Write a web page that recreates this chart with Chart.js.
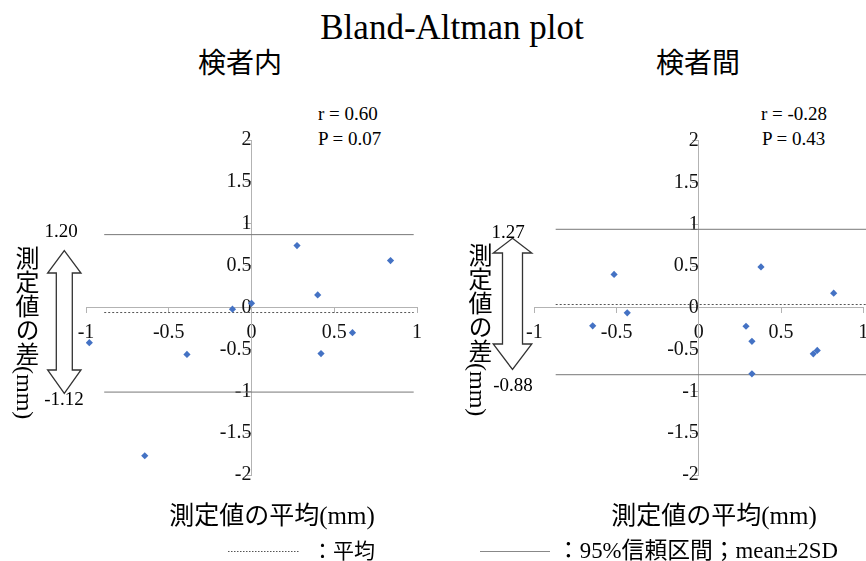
<!DOCTYPE html>
<html>
<head>
<meta charset="utf-8">
<script src="https://cdn.jsdelivr.net/npm/chart.js@4.4.1/dist/chart.umd.min.js"></script>
<style>
  html, body { margin:0; padding:0; background:#fff; width:866px; height:561px; overflow:hidden; }
  .t { position:absolute; white-space:nowrap; font-family:"Liberation Serif","Noto Sans CJK JP",serif; color:#000; line-height:1; }
  .c { transform:translate(-50%,-50%); }
  .jp { font-family:"Noto Sans CJK JP","Liberation Serif",sans-serif; }
  .vt { writing-mode:vertical-rl; font-size:24px; }
  canvas { position:absolute; }
  svg { position:absolute; left:0; top:0; }
</style>
</head>
<body>
<div class="t c" style="left:452px;top:27px;font-size:35px;">Bland-Altman plot</div>
<div class="t c jp" style="left:240px;top:61px;font-size:28px;">検者内</div>
<div class="t c jp" style="left:698px;top:61px;font-size:28px;">検者間</div>

<div class="t" style="left:318px;top:104px;font-size:19px;">r = 0.60</div>
<div class="t" style="left:318px;top:129px;font-size:19px;">P = 0.07</div>
<div class="t" style="left:761px;top:104px;font-size:19px;">r = -0.28</div>
<div class="t" style="left:762px;top:129px;font-size:19px;">P = 0.43</div>

<canvas id="left" width="370" height="410" style="left:60px;top:90px;width:370px;height:410px;"></canvas>
<canvas id="right" width="380" height="410" style="left:500px;top:90px;width:380px;height:410px;"></canvas>

<svg width="866" height="561">
  <path d="M64.3,250.7 L81,273 L72.3,273 L72.3,370 L81,370 L64.3,393.3 L47.6,370 L56.3,370 L56.3,273 L47.6,273 Z" fill="#fff" stroke="#333" stroke-width="1.3"/>
  <path d="M512.5,238.3 L531.8,253 L522.5,253 L522.5,344 L531.8,344 L512.5,369.5 L493.2,344 L502.5,344 L502.5,253 L493.2,253 Z" fill="#fff" stroke="#333" stroke-width="1.3"/>
  <line x1="228" y1="551.5" x2="300" y2="551.5" stroke="#555" stroke-width="1" stroke-dasharray="1.5,1.5"/>
  <line x1="480" y1="551.5" x2="550" y2="551.5" stroke="#888" stroke-width="1"/>
</svg>

<div class="t c" style="left:61px;top:230px;font-size:19px;">1.20</div>
<div class="t c" style="left:64px;top:398px;font-size:19px;">-1.12</div>
<div class="t c" style="left:508px;top:231px;font-size:19px;">1.27</div>
<div class="t c" style="left:513px;top:384px;font-size:19px;">-0.88</div>

<div class="t vt" style="left:13px;top:246px;">測定値の差(mm)</div>
<div class="t vt" style="left:466px;top:243px;">測定値の差(mm)</div>

<div class="t c" style="left:272px;top:515px;font-size:25px;">測定値の平均(mm)</div>
<div class="t c" style="left:714px;top:515px;font-size:25px;">測定値の平均(mm)</div>

<div class="t" style="left:312px;top:541px;font-size:21px;">：平均</div>
<div class="t" style="left:557px;top:540px;font-size:22.8px;">：95%信頼区間；mean±2SD</div>

<script>
// ---- data ----
const xTicks = [-1, -0.5, 0, 0.5, 1];
const yTicks = [-2, -1.5, -1, -0.5, 0, 0.5, 1, 1.5, 2];

// 検者内 (intra-examiner)
const intraMean = [-0.98, -0.645, -0.39, -0.115, 0.0, 0.275, 0.40, 0.42, 0.61, 0.84];
const intraDiff = [-0.42, -1.77, -0.56, -0.02, 0.05, 0.74, 0.15, -0.55, -0.30, 0.56];
const intraBias = -0.06;
const intraUpper = 0.87;
const intraLower = -1.01;
const intraLineX = [-0.89, 0.98];

// 検者間 (inter-examiner)
const interMean = [-0.645, -0.515, -0.435, 0.287, 0.323, 0.323, 0.378, 0.696, 0.72, 0.82];
const interDiff = [-0.215, 0.40, -0.06, -0.22, -0.40, -0.79, 0.49, -0.55, -0.51, 0.175];
const interBias = 0.04;
const interUpper = 0.94;
const interLower = -0.80;
const interLineX = [-0.87, 1.1];

// ---- drawing ----
const axisColor = '#b3b3b3';
const tickFont = { family: 'Liberation Serif', size: 20 };
const fmt = v => String(v);

function hLine(level, range, color, dash) {
  return {
    type: 'line',
    data: [{ x: range[0], y: level }, { x: range[1], y: level }],
    borderColor: color, borderWidth: 1, borderDash: dash,
    pointRadius: 0, showLine: true, fill: false, clip: false, order: 1
  };
}

function makeChart(id, xs, ys, bias, upper, lower, lineX, padding) {
  const pts = xs.map((x, i) => ({ x: x, y: ys[i] }));
  return new Chart(document.getElementById(id), {
    type: 'scatter',
    data: {
      datasets: [
        { data: pts, pointStyle: 'rectRot', pointRadius: 3.6, backgroundColor: '#4472C4', borderColor: '#4472C4', borderWidth: 0, order: 0 },
        hLine(bias, lineX, '#555', [2, 2]),
        hLine(upper, lineX, '#777', []),
        hLine(lower, lineX, '#777', [])
      ]
    },
    options: {
      responsive: false,
      animation: false,
      devicePixelRatio: 1,
      layout: { padding: padding },
      plugins: { legend: { display: false }, tooltip: { enabled: false } },
      scales: {
        x: {
          type: 'linear', position: { y: 0 }, min: xTicks[0], max: xTicks[xTicks.length - 1],
          afterBuildTicks: s => { s.ticks = xTicks.map(v => ({ value: v })); },
          ticks: { font: tickFont, color: '#111', padding: 8, maxRotation: 0, autoSkip: false, callback: fmt },
          grid: { drawOnChartArea: false, drawTicks: true, tickLength: 5, color: axisColor },
          border: { display: true, color: axisColor, width: 1 }
        },
        y: {
          type: 'linear', position: { x: 0 }, min: yTicks[0], max: yTicks[yTicks.length - 1],
          afterBuildTicks: s => { s.ticks = yTicks.map(v => ({ value: v })); },
          ticks: { font: tickFont, color: '#111', padding: 13, autoSkip: false, callback: fmt },
          grid: { drawOnChartArea: false, drawTicks: true, tickLength: 6, color: axisColor },
          border: { display: true, color: axisColor, width: 1 }
        }
      }
    }
  });
}

makeChart('left', intraMean, intraDiff, intraBias, intraUpper, intraLower, intraLineX,
  { left: 26, right: 12, top: 50, bottom: 20 });
makeChart('right', interMean, interDiff, interBias, interUpper, interLower, interLineX,
  { left: 34.3, right: 16.7, top: 50.7, bottom: 20 });
</script>
</body>
</html>
